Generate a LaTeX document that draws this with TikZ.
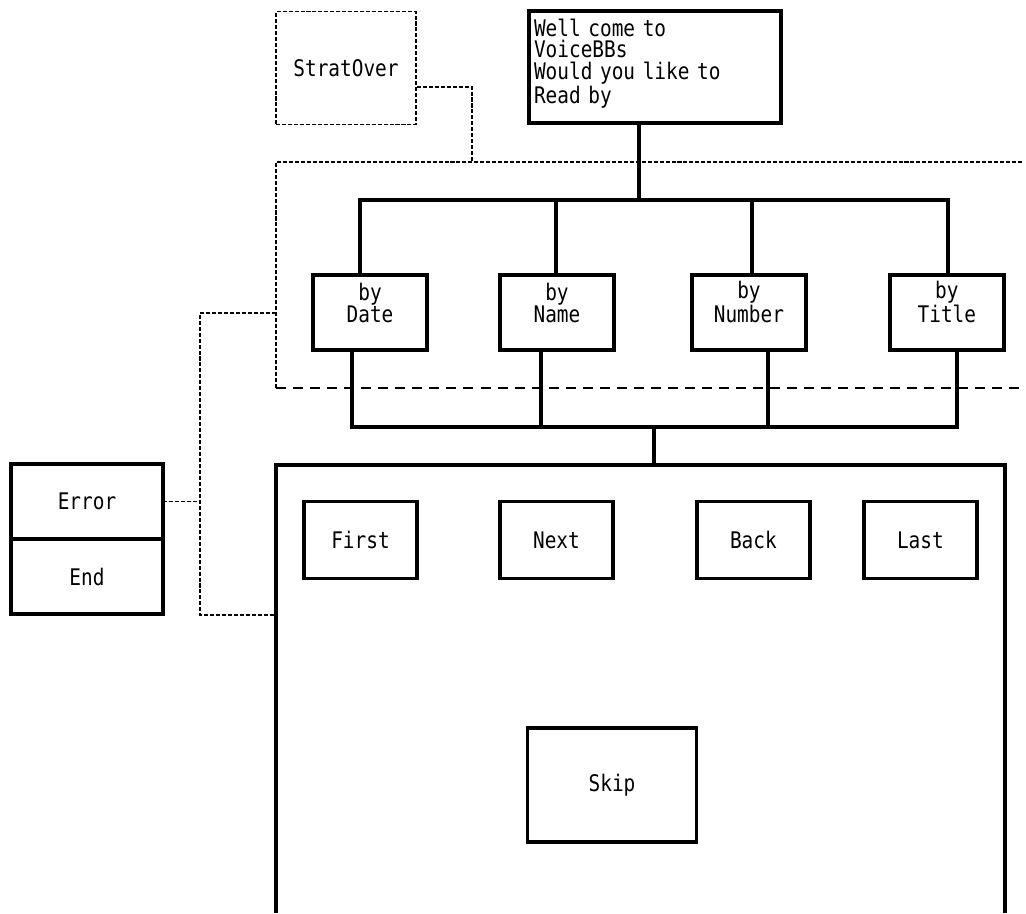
\documentclass[tikz,border=0pt]{standalone}
\usepackage{fontspec}
\setmonofont{DejaVu Sans Mono}[FakeStretch=0.85]
\usetikzlibrary{positioning}

\begin{document}
\begin{tikzpicture}[x=0.02cm, y=-0.02cm,
    every node/.style={font=\ttfamily\fontsize{13}{12.5}\selectfont, inner sep=0pt},
    box/.style={draw, line width=2pt, outer sep=0pt, minimum width=2.28cm, minimum height=1.5cm},
    sortbox/.style={box, align=center, text height=0.94cm, text depth=0.56cm},
    wire/.style={line width=2pt},
    finedash/.style={line width=0.9pt, dash pattern=on 2.3pt off 1.1pt},
    widedash/.style={line width=0.9pt, dash pattern=on 5.7pt off 4pt}]
    \useasboundingbox (0,0) rectangle (1026,913);
    \node[draw, finedash, minimum width=2.8cm, minimum height=2.26cm] (stratover) at (346,68) {StratOver};
    \node[box, minimum width=5.04cm, minimum height=2.24cm, text width=4.84cm, align=left, text height=0.5cm, text depth=1.74cm] (welcome) at (655,67) {Well come to\\VoiceBBs\\Would you like to\\Read by};
    \node[sortbox] (bydate) at (370,312.5) {by\\Date};
    \node[sortbox, right=1.46cm of bydate] (byname) {by\\Name};
    \node[sortbox, right=1.56cm of byname] (bynumber) {by\\Number};
    \node[sortbox, right=1.68cm of bynumber] (bytitle) {by\\Title};
    \node[box, minimum width=3.04cm] (error) at (87,501.5) {Error};
    \node[box, minimum width=3.04cm, below=0pt of error] (end) {End};
    \node[box, minimum width=2.26cm, minimum height=1.54cm] (first) at (360.5,540) {First};
    \node[box, minimum width=2.26cm, minimum height=1.54cm, right=1.66cm of first] (next) {Next};
    \node[box, minimum width=2.26cm, minimum height=1.54cm, right=1.68cm of next] (back) {Back};
    \node[box, minimum width=2.26cm, minimum height=1.54cm, right=1.08cm of back] (last) {Last};
    \node[box, minimum width=3.38cm, minimum height=2.28cm] (skip) at (612,785) {Skip};
    \coordinate (topbus) at (639,200);
    \coordinate (lowbus) at (654,427);
    \coordinate (paneltop) at (654,465);
    \coordinate (regtr) at (1022,162);
    \coordinate (regbl) at (276,388);
    \coordinate (regbr) at (1022,388);
    \coordinate (tap) at (472,162);
    \coordinate (errtap) at (200,502);
    \coordinate (regleft) at (276,313);
    \coordinate (panelleft) at (276,615);
    % dashed frame round the sort choices
    \draw[finedash] (regtr) -| (regbl);
    \draw[widedash] (regbl) -- (regbr);
    \draw[finedash] ([yshift=-0.38cm]stratover.east) -| (tap);
    \draw[finedash] (error.east) -- (error.east -| errtap);
    \draw[finedash] (regleft) -| (errtap) |- (panelleft);
    % panel, open at the bottom
    \draw[wire] (276,913) |- (1005,465) -- (1005,913);
    \draw[wire] (welcome.south -| topbus) -- (topbus);
    \foreach \n/\a/\b in {bydate/-0.2/-0.36, byname/-0.02/-0.32, bynumber/0.06/0.38, bytitle/0.02/0.2} {
      \draw[wire] ([xshift=\a cm]\n.north) |- (topbus);
      \draw[wire] ([xshift=\b cm]\n.south) |- (lowbus);
    }
    \draw[wire] (lowbus) -- (paneltop);
\end{tikzpicture}
\end{document}
